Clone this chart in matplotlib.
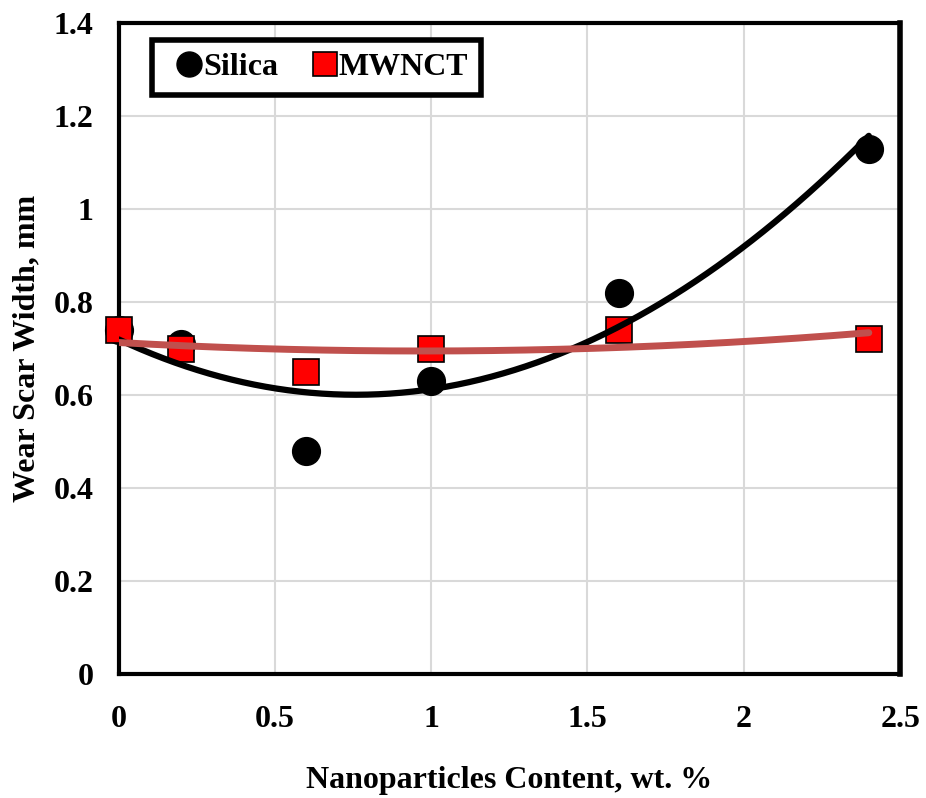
import matplotlib
matplotlib.use('Agg')
import matplotlib.pyplot as plt
import numpy as np

plt.rcParams['font.family'] = ['Liberation Serif', 'DejaVu Serif']
plt.rcParams['font.weight'] = 'bold'

content = [0, 0.2, 0.6, 1.0, 1.6, 2.4]
silica = [0.74, 0.71, 0.48, 0.63, 0.82, 1.13]
mwcnt = [0.74, 0.70, 0.65, 0.70, 0.74, 0.72]

xticks = [0, 0.5, 1, 1.5, 2, 2.5]
yticks = [0, 0.2, 0.4, 0.6, 0.8, 1.0, 1.2, 1.4]
yticklabels = ['0', '0.2', '0.4', '0.6', '0.8', '1', '1.2', '1.4']

fig = plt.figure(figsize=(9.26, 7.98), dpi=100)
ax = fig.add_axes([0.128, 0.155, 0.844, 0.816])

ax.plot(content, silica, 'o', color='black', ms=20, label='Silica', zorder=3, clip_on=False)
ax.plot(content, mwcnt, 's', color='#ff0000', mec='black', mew=1.2, ms=19,
        label='MWNCT', zorder=4, clip_on=False)

# 2nd order polynomial trendlines
xs = np.linspace(min(content), max(content), 200)
p1 = np.polyfit(content, silica, 2)
p2 = np.polyfit(content, mwcnt, 2)
ax.plot(xs, np.polyval(p1, xs), color='black', lw=4.5, solid_capstyle='round', zorder=5)
ax.plot(xs, np.polyval(p2, xs), color='#c0504d', lw=5, solid_capstyle='round', zorder=6)

ax.set_xlim(0, 2.5)
ax.set_ylim(0, 1.4)
ax.set_xticks(xticks)
ax.set_xticklabels([str(t) for t in xticks])
ax.set_yticks(yticks)
ax.set_yticklabels(yticklabels)
ax.tick_params(length=0, labelsize=23)
ax.tick_params(axis='y', pad=18)
ax.tick_params(axis='x', pad=22)
ax.grid(True, color='#d9d9d9', lw=1.5)
ax.set_axisbelow(True)
for s in ax.spines.values():
    s.set_linewidth(3)
    s.set_color('black')
ax.spines['right'].set_linewidth(4)

ax.set_xlabel('Nanoparticles Content, wt. %', fontsize=23, fontweight='bold', labelpad=23)
ax.set_ylabel('Wear Scar Width, mm', fontsize=23, fontweight='bold', labelpad=9)

leg = ax.legend(loc='upper left', ncol=2, fontsize=23, frameon=True, fancybox=False,
                framealpha=1, bbox_to_anchor=(0.043, 0.974), borderaxespad=0,
                handletextpad=-0.3, columnspacing=0.7, borderpad=0.4,
                handlelength=1.5, markerscale=0.9)
leg.get_frame().set_edgecolor('black')
leg.get_frame().set_linewidth(4)
leg.set_zorder(10)

fig.savefig('out.png', dpi=100)
